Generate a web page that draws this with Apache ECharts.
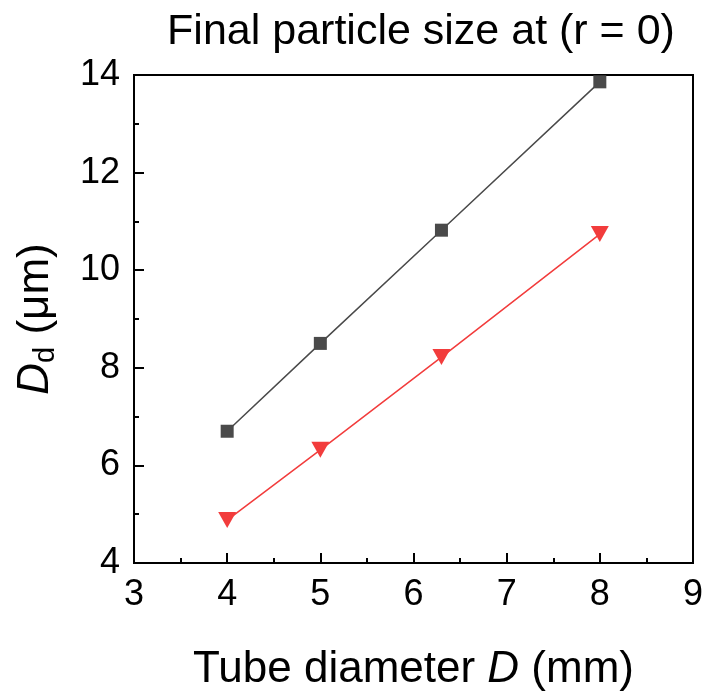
<!DOCTYPE html>
<html>
<head>
<meta charset="utf-8">
<script src="https://cdn.jsdelivr.net/npm/echarts@6/dist/echarts.min.js"></script>
<style>
    html, body { margin: 0; padding: 0; background: #fff; }
    #chart { width: 708px; height: 692px; }
</style>
</head>
<body>
<div id="chart"></div>
<script>
    // tube diameter D (mm)
    let tubeD = [4, 5, 6.3, 8]
    // final particle size Dd (um)
    let sizeSquare = [6.70, 8.50, 10.82, 13.86]
    let sizeTriangle = [4.88, 6.32, 8.22, 10.74]

    let font = 'Liberation Sans'
    let myChart = echarts.init(document.getElementById('chart'))

    let chartData = {
        animation: false,
        title: {
            text: 'Final particle size at (r = 0)',
            left: 416,
            textAlign: 'center',
            top: 6,
            textStyle: {
                fontFamily: font,
                fontSize: 43,
                fontWeight: 'normal',
                color: '#000'
            }
        },
        grid: {
            left: 134,
            right: 15,
            top: 75,
            bottom: 129,
            outerBoundsMode: 'none',
            containLabel: false,
            show: true,
            borderColor: '#000',
            borderWidth: 2
        },
        xAxis: {
            type: 'value',
            min: 3,
            max: 9,
            interval: 1,
            name: '{n|Tube diameter }{i|D}{n| (mm)}',
            nameLocation: 'middle',
            nameGap: 85,
            nameTextStyle: {
                rich: {
                    n: { fontFamily: font, fontSize: 44, color: '#000' },
                    i: { fontFamily: font, fontSize: 44, fontStyle: 'italic', color: '#000' }
                }
            },
            axisLine: { lineStyle: { color: '#000', width: 2 } },
            axisTick: { inside: true, length: 10, lineStyle: { color: '#000', width: 2 } },
            minorTick: { show: true, splitNumber: 2, length: 5, lineStyle: { color: '#000', width: 2 } },
            axisLabel: { fontFamily: font, fontSize: 36, color: '#000', margin: 14 },
            splitLine: { show: false }
        },
        yAxis: {
            type: 'value',
            min: 4,
            max: 14,
            interval: 2,
            name: '{i|D}{s|d}{n| (μm)}',
            nameLocation: 'middle',
            nameGap: 74,
            nameRotate: 90,
            nameTextStyle: {
                lineHeight: 48,
                rich: {
                    n: { fontFamily: font, fontSize: 44, color: '#000', lineHeight: 48 },
                    i: { fontFamily: font, fontSize: 44, fontStyle: 'italic', color: '#000', lineHeight: 48 },
                    s: { fontFamily: font, fontSize: 29, color: '#000', verticalAlign: 'bottom', lineHeight: 48 }
                }
            },
            axisLine: { show: true, lineStyle: { color: '#000', width: 2 } },
            axisTick: { show: true, inside: true, length: 10, lineStyle: { color: '#000', width: 2 } },
            minorTick: { show: true, splitNumber: 2, length: 5, lineStyle: { color: '#000', width: 2 } },
            axisLabel: { fontFamily: font, fontSize: 36, color: '#000', margin: 14 },
            splitLine: { show: false }
        },
        series: [
            {
                type: 'line',
                data: tubeD.map((x, i) => [x, sizeSquare[i]]),
                symbol: 'rect',
                symbolSize: 13,
                color: '#4a4a4a',
                lineStyle: { color: '#4a4a4a', width: 1.5 }
            },
            {
                type: 'line',
                data: tubeD.map((x, i) => [x, sizeTriangle[i]]),
                symbol: 'triangle',
                symbolRotate: 180,
                symbolSize: [18, 16],
                color: '#f23c3c',
                lineStyle: { color: '#f23c3c', width: 1.5 }
            }
        ]
    }
    myChart.setOption(chartData)
</script>
</body>
</html>
